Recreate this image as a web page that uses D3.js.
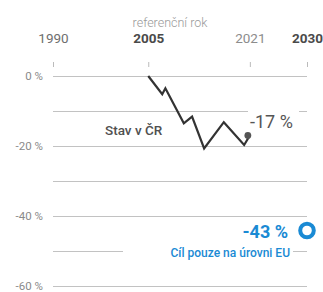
<!DOCTYPE html>
<html>
<head>
<meta charset="utf-8">
<script src="https://cdn.jsdelivr.net/npm/d3@7"></script>
<style>
  body { margin: 0; background: #fff; }
  text { font-family: Roboto, "Noto Sans", sans-serif; }
  .axis .domain { display: none; }
  .yaxis line { stroke: #c2c2c2; stroke-width: 1; }
  .yaxis text { fill: #8a8a8a; font-size: 11.5px; }
  .xaxis line { stroke: #bbb; }
</style>
</head>
<body>
<script>
// years shown on top axis
var yearTicks = [1990, 2005, 2021, 2030]
var boldYears = [2005, 2030]
var pctTicks = [0, -10, -20, -30, -40, -50, -60]

// emissions vs. 2005 (Czech Republic)
var years = [2005, 2007.2, 2007.7, 2010.6, 2011.9, 2013.8, 2016.9, 2020.1, 2021]
var values = [0, -5.2, -3.5, -13.5, -11.6, -20.7, -13.2, -19.7, -17]

var lastYear = 2021, lastValue = -17
var goalYear = 2030, goalValue = -43

var width = 323, height = 292

var x = d3.scaleLinear().domain([1990, 2030]).range([53, 307])
var y = d3.scaleLinear().domain([0, -60]).range([76, 286])

var svg = d3.select("body").append("svg")
  .attr("width", width)
  .attr("height", height)

// gridlines + percent labels
var yAxis = d3.axisLeft(y)
  .tickValues(pctTicks)
  .tickSize(-(x.range()[1] - x.range()[0]))
  .tickPadding(10)
  .tickFormat(function(d) { return d % 20 === 0 ? d + " %" : "" })

svg.append("g")
  .attr("class", "axis yaxis")
  .attr("transform", "translate(" + x.range()[0] + ",0)")
  .call(yAxis)

// top year axis
var xAxis = d3.axisTop(x)
  .tickValues(yearTicks)
  .tickSize(5)
  .tickPadding(19)
  .tickFormat(d3.format("d"))

var xg = svg.append("g")
  .attr("class", "axis xaxis")
  .attr("transform", "translate(0,67)")
  .call(xAxis)

xg.selectAll("text")
  .style("font-size", "13.5px")
  .style("font-weight", function(d) { return boldYears.indexOf(d) >= 0 ? "700" : "400" })
  .style("fill", function(d) {
    if (boldYears.indexOf(d) >= 0) return "#4a4a4a"
    return d === 2021 ? "#8c8c8c" : "#6e6e6e"
  })

svg.append("text")
  .attr("x", 170)
  .attr("y", 27)
  .attr("text-anchor", "middle")
  .style("font-size", "12.5px")
  .style("font-weight", "300")
  .style("fill", "#999")
  .text("referenční rok")

// line
var line = d3.line()
  .x(function(d) { return x(d[0]) })
  .y(function(d) { return y(d[1]) })

svg.append("path")
  .datum(d3.zip(years, values))
  .attr("d", line)
  .attr("fill", "none")
  .attr("stroke", "#333")
  .attr("stroke-width", 2.2)
  .attr("stroke-linejoin", "miter")

svg.append("circle")
  .attr("cx", x(lastYear) - 2)
  .attr("cy", y(lastValue))
  .attr("r", 3.4)
  .attr("fill", "#555")

svg.append("text")
  .attr("x", 105)
  .attr("y", 135)
  .style("font-size", "13.5px")
  .style("font-weight", "500")
  .style("fill", "#505050")
  .text("Stav v ČR")

// -17 % label with white background
svg.append("rect")
  .attr("x", 248)
  .attr("y", 106)
  .attr("width", 51)
  .attr("height", 24)
  .attr("fill", "#fff")

svg.append("text")
  .attr("x", 250)
  .attr("y", 128)
  .style("font-size", "18px")
  .style("fill", "#555")
  .text(lastValue + " %")

// EU goal
svg.append("rect")
  .attr("x", 123)
  .attr("y", 244)
  .attr("width", 170)
  .attr("height", 16)
  .attr("fill", "#fff")

svg.append("circle")
  .attr("cx", x(goalYear))
  .attr("cy", y(goalValue) + 4)
  .attr("r", 6.8)
  .attr("fill", "none")
  .attr("stroke", "#1a8ad4")
  .attr("stroke-width", 4)

svg.append("text")
  .attr("x", 288)
  .attr("y", 238)
  .attr("text-anchor", "end")
  .style("font-size", "18px")
  .style("font-weight", "700")
  .style("fill", "#1a8ad4")
  .text(goalValue + " %")

svg.append("text")
  .attr("x", 290)
  .attr("y", 257)
  .attr("text-anchor", "end")
  .style("font-size", "12px")
  .style("font-weight", "500")
  .style("fill", "#1a8ad4")
  .text("Cíl pouze na úrovni EU")
</script>
</body>
</html>
